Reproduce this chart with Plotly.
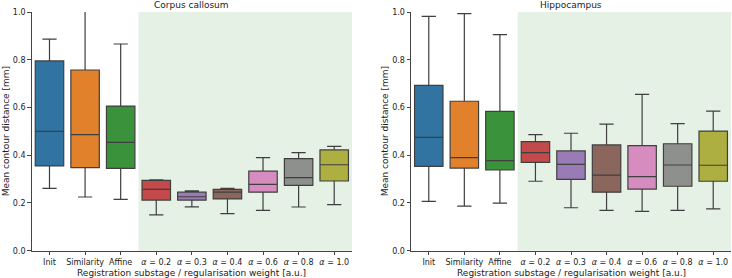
import plotly.graph_objects as go

categories = ["Init", "Similarity", "Affine", "α = 0.2", "α = 0.3", "α = 0.4", "α = 0.6", "α = 0.8", "α = 1.0"]
tick_labels = ["Init", "Similarity", "Affine", "<i>α</i> = 0.2", "<i>α</i> = 0.3", "<i>α</i> = 0.4",
               "<i>α</i> = 0.6", "<i>α</i> = 0.8", "<i>α</i> = 1.0"]

# Corpus callosum
cc_low = [0.261, 0.225, 0.215, 0.150, 0.184, 0.155, 0.169, 0.183, 0.193]
cc_q1 = [0.355, 0.348, 0.345, 0.212, 0.212, 0.217, 0.245, 0.274, 0.292]
cc_med = [0.500, 0.486, 0.454, 0.257, 0.226, 0.245, 0.278, 0.306, 0.360]
cc_q3 = [0.795, 0.757, 0.606, 0.295, 0.245, 0.257, 0.333, 0.386, 0.422]
cc_high = [0.886, 1.02, 0.866, 0.297, 0.251, 0.261, 0.390, 0.411, 0.437]

# Hippocampus
hc_low = [0.207, 0.187, 0.199, 0.291, 0.180, 0.169, 0.165, 0.169, 0.175]
hc_q1 = [0.353, 0.346, 0.338, 0.370, 0.299, 0.245, 0.258, 0.270, 0.291]
hc_med = [0.475, 0.390, 0.377, 0.411, 0.362, 0.317, 0.310, 0.359, 0.358]
hc_q3 = [0.693, 0.626, 0.584, 0.457, 0.418, 0.443, 0.440, 0.448, 0.501]
hc_high = [0.982, 0.993, 0.905, 0.486, 0.492, 0.530, 0.655, 0.532, 0.585]

colors = ["rgb(50,116,161)", "rgb(225,129,44)", "rgb(58,146,58)", "rgba(192,61,62,0.93)",
          "rgba(147,114,178,0.93)", "rgba(132,91,83,0.93)", "rgba(214,132,189,0.93)",
          "rgba(127,127,127,0.85)", "rgba(169,170,53,0.93)"]
line_col = "#3f3f3f"
font = "DejaVu Sans"

W, H = 732, 278
xdom1 = [31.7 / W, 352 / W]
xdom2 = [411 / W, 731 / W]
ydom = [(H - 250.7) / H, (H - 12) / H]

fig = go.Figure()

panels = [
    ("x", "y", cc_low, cc_q1, cc_med, cc_q3, cc_high),
    ("x2", "y2", hc_low, hc_q1, hc_med, hc_q3, hc_high),
]
for xa, ya, lo, q1, md, q3, hi in panels:
    for i, cat in enumerate(categories):
        fig.add_trace(go.Box(
            x=[cat], lowerfence=[lo[i]], q1=[q1[i]], median=[md[i]], q3=[q3[i]], upperfence=[hi[i]],
            xaxis=xa, yaxis=ya, fillcolor=colors[i], line=dict(color=line_col, width=1.2),
            width=0.8, whiskerwidth=0.5, showlegend=False, hoverinfo="skip", boxpoints=False,
        ))

axis_common = dict(showline=True, linecolor="#444", linewidth=1, ticks="outside", ticklen=3.5,
                   tickcolor="#444", tickwidth=1, showgrid=False, zeroline=False, automargin=False,
                   tickfont=dict(family=font, size=8, color="#222"))

yticks = [0, 0.2, 0.4, 0.6, 0.8, 1.0]
ytext = ["0.0", "0.2", "0.4", "0.6", "0.8", "1.0"]

fig.update_layout(
    width=W, height=H, margin=dict(l=0, r=0, t=0, b=0, autoexpand=False),
    plot_bgcolor="white", paper_bgcolor="white", boxmode="overlay",
    xaxis=dict(domain=xdom1, type="category", categoryorder="array", categoryarray=categories,
               tickvals=categories, ticktext=tick_labels, range=[-0.5, 8.5], anchor="y", **axis_common),
    xaxis2=dict(domain=xdom2, type="category", categoryorder="array", categoryarray=categories,
                tickvals=categories, ticktext=tick_labels, range=[-0.5, 8.5], anchor="y2", **axis_common),
    yaxis=dict(domain=ydom, range=[0, 1], tickvals=yticks, ticktext=ytext, anchor="x", **axis_common),
    yaxis2=dict(domain=ydom, range=[0, 1], tickvals=yticks, ticktext=ytext, anchor="x2", **axis_common),
)

for xr, yr in [("x", "y domain"), ("x2", "y2 domain")]:
    fig.add_shape(type="rect", xref=xr, yref=yr, x0=2.5, x1=8.5, y0=0, y1=1,
                  fillcolor="#e5f1e4", line=dict(width=0), layer="below")

tf = dict(family=font, size=9, color="#222")
for txt, dom, ytx in [("Corpus callosum", xdom1, 6 / W), ("Hippocampus", xdom2, 385 / W)]:
    xc = (dom[0] + dom[1]) / 2
    fig.add_annotation(text=txt, x=xc, y=ydom[1], xref="paper", yref="paper", xanchor="center",
                       yanchor="bottom", showarrow=False, yshift=0, font=tf)
    fig.add_annotation(text="Registration substage / regularisation weight [a.u.]", x=xc, y=(H - 273) / H,
                       xref="paper", yref="paper", xanchor="center", yanchor="middle", showarrow=False, font=tf)
    fig.add_annotation(text="Mean contour distance [mm]", x=ytx, y=(ydom[0] + ydom[1]) / 2,
                       xref="paper", yref="paper", xanchor="center", yanchor="middle", textangle=-90,
                       showarrow=False, font=tf)

fig.write_html("out.html", config={"displayModeBar": False},
               post_script="document.body.style.margin='0';document.body.style.overflow='hidden';")
